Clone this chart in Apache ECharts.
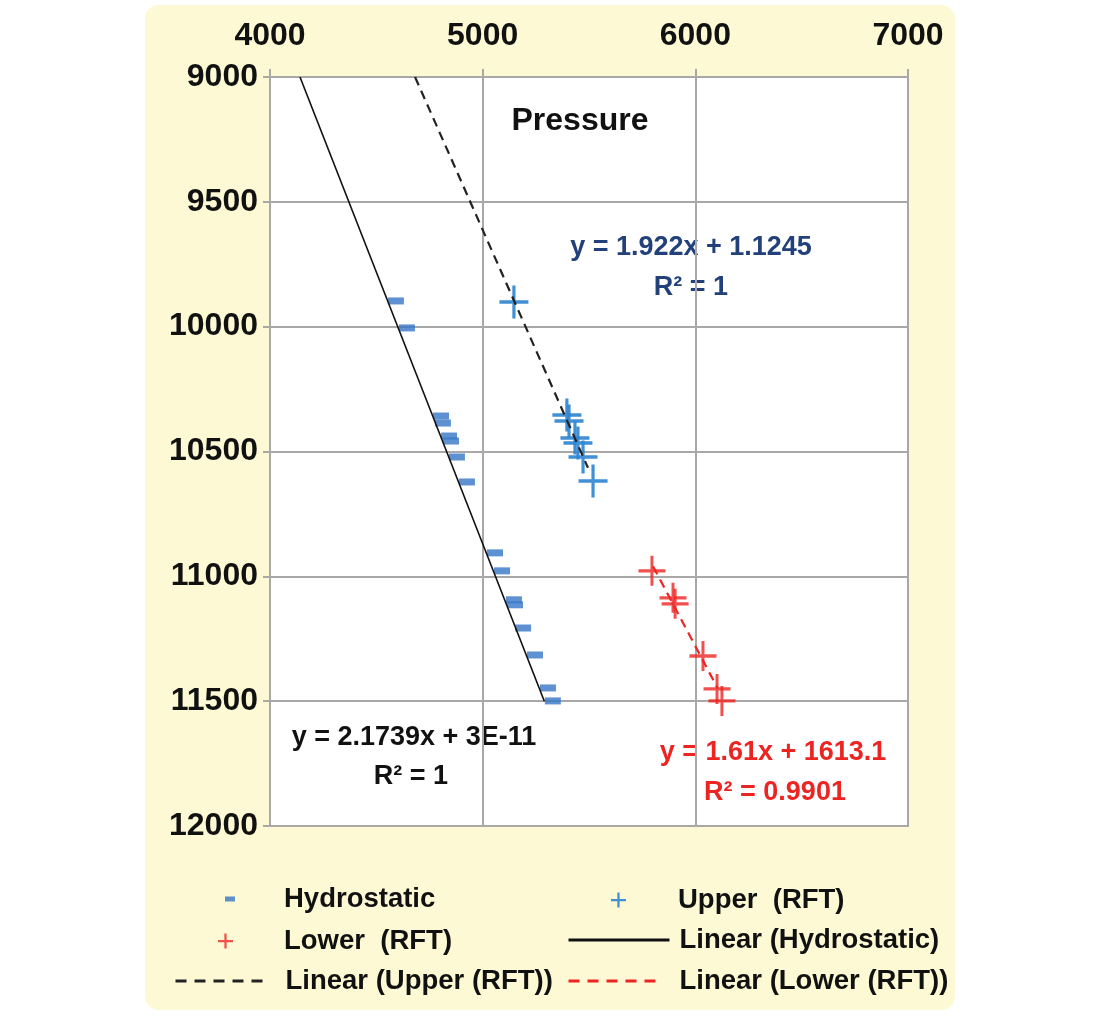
<!DOCTYPE html>
<html>
<head>
<meta charset="utf-8">
<script src="https://cdn.jsdelivr.net/npm/echarts@6/dist/echarts.min.js"></script>
<style>
  html, body { margin: 0; padding: 0; background: #fff; }
  #chart { width: 1100px; height: 1020px; }
</style>
</head>
<body>
<div id="chart"></div>
<script>
// pressure (x) and depth (y)
var hydroPressure = [4592, 4644, 4804, 4813, 4842, 4851, 4879, 4926, 5058, 5091, 5147, 5152, 5190, 5246, 5307, 5330]
var hydroDepth = [9897, 10005, 10358, 10386, 10438, 10458, 10522, 10622, 10906, 10978, 11094, 11114, 11207, 11315, 11447, 11499]
var upperPressure = [5147, 5396, 5406, 5434, 5448, 5472, 5519]
var upperDepth = [9901, 10354, 10378, 10446, 10466, 10522, 10618]
var lowerPressure = [5796, 5895, 5905, 6036, 6102, 6125]
var lowerDepth = [10978, 11086, 11110, 11319, 11451, 11499]

// trendline ends
var hydroLineP = [4141, 5290], hydroLineD = [9000, 11500]
var upperLineP = [4682, 5495], upperLineD = [9000, 10565]
var lowerLineP = [5801, 6106], lowerLineD = [10960, 11450]

var xTicks = [4000, 5000, 6000, 7000]
var yTicks = [9000, 9500, 10000, 10500, 11000, 11500, 12000]

var FONT = "'Liberation Sans', Arial, sans-serif"
var PLUS = "path://M0,8.9H20V11.1H0Z M8.9,0H11.1V20H8.9Z"
var PLUS_ICON = "path://M0,8.5H20V11.5H0Z M8.5,0H11.5V20H8.5Z"
var DASH = "path://M0,0H12V5H0Z"
var BLUE = "#3675C6", PLUS_BLUE = "#2C84D2", RED = "#EC2522", NAVY = "#22407A"

function pairs(xs, ys) { return xs.map(function(x, i) { return [x, ys[i]] }) }
function legendText(pad) { return {fontFamily: FONT, fontWeight: "bold", fontSize: 27.5, color: "#111", padding: [0, 0, 0, pad]} }
function eqText(x, y, text, color) {
    return {type: "text", x: x, y: y, style: {text: text, fill: color, font: "bold 27px " + FONT,
        align: "center", verticalAlign: "middle", textAlign: "center", textVerticalAlign: "middle"}}
}

var chart = echarts.init(document.getElementById("chart"))

chart.setOption({
    animation: false,
    title: {text: "Pressure", left: 575, top: 100, textAlign: "center",
        textStyle: {fontFamily: FONT, fontWeight: "bold", fontSize: 32, color: "#111"}},
    graphic: [
        {type: "rect", z: -10, silent: true, shape: {x: 145, y: 5, width: 810, height: 1005, r: 14}, style: {fill: "#FCF9D4"}},
        eqText(691, 248, "y = 1.922x + 1.1245", NAVY),
        eqText(691, 288, "R² = 1", NAVY),
        eqText(414, 738, "y = 2.1739x + 3E-11", "#111"),
        eqText(411, 777, "R² = 1", "#111"),
        eqText(773, 753, "y = 1.61x + 1613.1", RED),
        eqText(775, 793, "R² = 0.9901", RED),
    ],
    legend: [
        {data: [{name: "Hydrostatic", icon: DASH}], left: 220, top: 880, itemWidth: 10, itemHeight: 5,
            symbolKeepAspect: false, textStyle: legendText(44)},
        {data: [{name: "Upper  (RFT)", icon: PLUS_ICON}], left: 606, top: 881, itemWidth: 15, itemHeight: 15,
            symbolKeepAspect: false, textStyle: legendText(47)},
        {data: [{name: "Lower  (RFT)", icon: PLUS_ICON}], left: 213, top: 922, itemWidth: 15, itemHeight: 15,
            symbolKeepAspect: false, textStyle: legendText(46)},
        {data: ["Linear (Hydrostatic)"], left: 562, top: 921, itemWidth: 101, itemHeight: 14,
            itemStyle: {opacity: 0}, lineStyle: {width: 3}, textStyle: legendText(5)},
        {data: ["Linear (Upper (RFT))"], left: 169, top: 962, itemWidth: 94, itemHeight: 14,
            itemStyle: {opacity: 0}, lineStyle: {width: 3, type: [11, 8]}, textStyle: legendText(11)},
        {data: ["Linear (Lower (RFT))"], left: 562, top: 962, itemWidth: 93, itemHeight: 14,
            itemStyle: {opacity: 0}, lineStyle: {width: 3, type: [11, 8]}, textStyle: legendText(13)},
    ],
    grid: {left: 270, top: 77, width: 638, height: 749, show: true, backgroundColor: "#fff", borderColor: "#A8A8A8", borderWidth: 2},
    xAxis: {
        type: "value", position: "top", min: xTicks[0], max: xTicks[xTicks.length - 1], interval: 1000,
        axisLine: {show: true, lineStyle: {color: "#A8A8A8", width: 2}},
        axisTick: {show: true, length: 8, lineStyle: {color: "#A8A8A8", width: 2}},
        splitLine: {show: true, lineStyle: {color: "#A8A8A8", width: 2}},
        axisLabel: {margin: 25, fontFamily: FONT, fontWeight: "bold", fontSize: 32, color: "#111",
            formatter: function(v) { return String(v) }},
    },
    yAxis: {
        type: "value", inverse: true, min: yTicks[0], max: yTicks[yTicks.length - 1], interval: 500,
        axisLine: {show: true, lineStyle: {color: "#A8A8A8", width: 2}},
        axisTick: {show: true, length: 7, lineStyle: {color: "#A8A8A8", width: 2}},
        splitLine: {show: true, lineStyle: {color: "#A8A8A8", width: 2}},
        axisLabel: {margin: 12, fontFamily: FONT, fontWeight: "bold", fontSize: 32, color: "#111",
            formatter: function(v) { return String(v) }},
    },
    series: [
        {name: "Linear (Hydrostatic)", type: "line", data: pairs(hydroLineP, hydroLineD), symbol: "none", z: 3,
            lineStyle: {color: "#111", width: 1.6}, itemStyle: {color: "#111"}},
        {name: "Linear (Upper (RFT))", type: "line", data: pairs(upperLineP, upperLineD), symbol: "none", z: 3,
            lineStyle: {color: "#222", width: 2.2, type: [9, 6]}, itemStyle: {color: "#333"}},
        {name: "Linear (Lower (RFT))", type: "line", data: pairs(lowerLineP, lowerLineD), symbol: "none", z: 3,
            lineStyle: {color: RED, width: 2.2, type: [9, 6]}, itemStyle: {color: RED}},
        {name: "Hydrostatic", type: "scatter", data: pairs(hydroPressure, hydroDepth), symbol: DASH, symbolSize: [16, 7], z: 2,
            itemStyle: {color: BLUE}},
        {name: "Upper  (RFT)", type: "scatter", data: pairs(upperPressure, upperDepth), symbol: PLUS, symbolSize: [29, 33], z: 2,
            itemStyle: {color: PLUS_BLUE, opacity: 0.9}},
        {name: "Lower  (RFT)", type: "scatter", data: pairs(lowerPressure, lowerDepth), symbol: PLUS, symbolSize: [27, 30], z: 2,
            itemStyle: {color: RED}},
    ],
})
</script>
</body>
</html>
